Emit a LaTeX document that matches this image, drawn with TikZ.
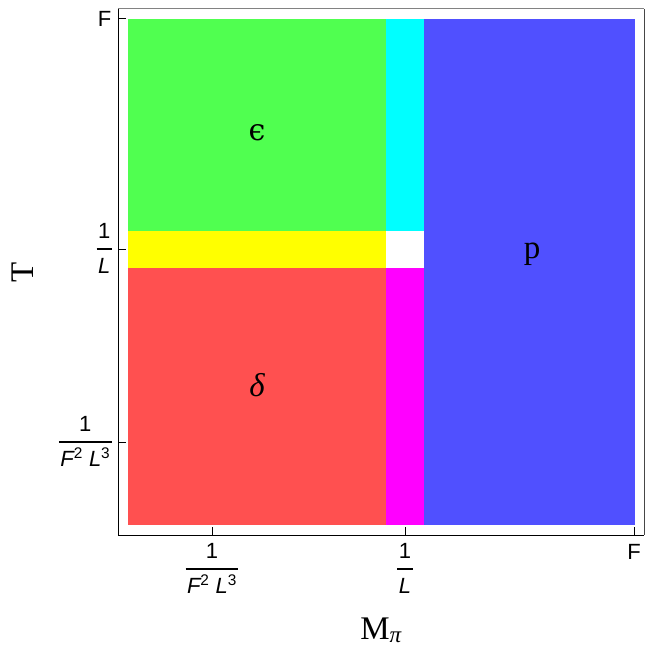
\documentclass[tikz,border=0pt]{standalone}
\usepackage{fontspec}
\setmainfont{Liberation Sans}
\newfontfamily\serifl{Liberation Serif}
\newfontfamily\dejas{DejaVu Serif}
\definecolor{pgreen}{RGB}{80,255,80}
\definecolor{pred}{RGB}{255,80,80}
\definecolor{pblue}{RGB}{80,80,255}
\definecolor{pyellow}{RGB}{255,255,0}
\definecolor{pcyan}{RGB}{0,255,255}
\definecolor{pmagenta}{RGB}{255,0,255}
\definecolor{frametop}{RGB}{130,130,130}
\definecolor{frameright}{RGB}{70,70,70}
\setlength{\arrayrulewidth}{1.2pt}
\newcommand{\fracl}[2]{{\renewcommand{\arraystretch}{1.35}\begin{tabular}{@{\hspace{1.5pt}}c@{\hspace{1.5pt}}}#1\\\hline #2\end{tabular}}}
\begin{document}
\begin{tikzpicture}[x=1pt,y=-1pt,
  ticklab/.style={inner sep=0pt,font=\fontsize{22}{25}\selectfont},
  reglab/.style={inner sep=0pt,font=\fontsize{33}{38}\serifl},
  axisline/.style={line width=1pt},
  tickline/.style={line width=1pt}]
\useasboundingbox (0,0) rectangle (647,652);
% regions
\fill[pgreen] (128,19) rectangle (386,231);
\fill[pcyan] (386,19) rectangle (424,231);
\fill[pyellow] (128,231) rectangle (386,268);
\fill[pred] (128,268) rectangle (386,525);
\fill[pmagenta] (386,268) rectangle (424,525);
\fill[pblue] (424,19) rectangle (635,525);
% frame
\draw[axisline,frametop] (118,9) -- (644,9);
\draw[axisline,frameright] (644,9) -- (644,535);
\draw[axisline,black] (118,9) -- (118,535) -- (644,535);
% ticks
\draw[tickline] (118,19) -- (126,19);
\draw[tickline] (118,249) -- (126,249);
\draw[tickline] (118,442) -- (126,442);
\draw[tickline] (212,535) -- (212,527);
\draw[tickline] (405,535) -- (405,527);
\draw[tickline] (634,535) -- (634,527);
% tick labels
\node[ticklab] (yF) at (104.5,18.5) {F};
\node[ticklab,anchor=east] (yL) at (112,249) {\fracl{1}{\itshape L}};
\node[ticklab,anchor=east] (yFL) at (112,442) {\fracl{1}{\itshape F\textsuperscript{\upshape 2} L\textsuperscript{\upshape 3}}};
\node[ticklab] (xFL) at (212,569) {\fracl{1}{\itshape F\textsuperscript{\upshape 2} L\textsuperscript{\upshape 3}}};
\node[ticklab] (xL) at (405,569) {\fracl{1}{\itshape L}};
\node[ticklab] (xF) at (634,552) {F};
% axis labels
\node[reglab,rotate=90] (ylab) at (23,272) {T};
\node[reglab,anchor=base] (xlab) at (381,639) {M\textsubscript{\itshape π}};
% region labels
\node[inner sep=0pt,font=\fontsize{30}{34}\dejas] (eps) at (257,133) {ϵ};
\node[reglab] (del) at (257,385) {\itshape δ};
\node[reglab] (pp) at (532,254.5) {p};
\end{tikzpicture}
\end{document}
